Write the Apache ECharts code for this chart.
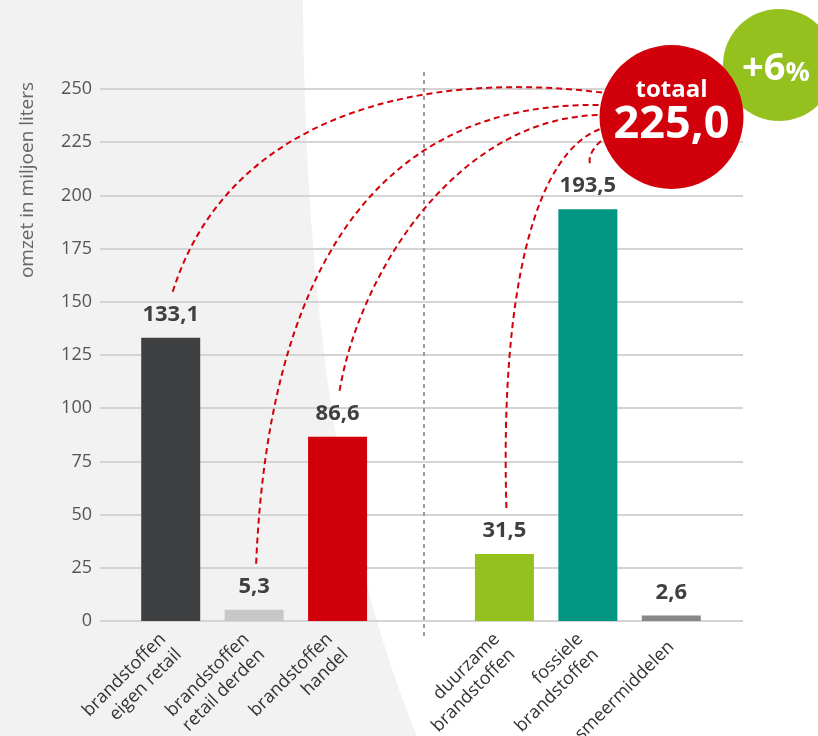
<!DOCTYPE html>
<html>
<head>
<meta charset="utf-8">
<script src="https://cdn.jsdelivr.net/npm/echarts@6/dist/echarts.min.js"></script>
<style>html,body{margin:0;padding:0;background:#fff}#c{width:818px;height:736px}</style>
</head>
<body>
<div id="c"></div>
<script>
// ---- data ----
const categories = ['brandstoffen\neigen retail', 'brandstoffen\nretail derden', 'brandstoffen\nhandel', '', 'duurzame\nbrandstoffen', 'fossiele\nbrandstoffen', 'smeermiddelen'];
const values = [133.1, 5.3, 86.6, null, 31.5, 193.5, 2.6];
const barColors = ['#3f4042', '#c6c7c6', '#d2000a', 'transparent', '#95c11f', '#009682', '#878787'];
const leftGroup = [0, 1, 2];      // sums to total
const connectors = [0, 1, 2, 4, 5];
const yMin = 0, yMax = 250, yStep = 25;
const yTitle = 'omzet in miljoen liters';
const totalTitle = 'totaal';
const growth = '+6';

const FONT = '"Open Sans", "DejaVu Sans", sans-serif';
const fmt = v => v.toFixed(1).replace('.', ',');
const total = leftGroup.reduce((s, i) => s + values[i], 0);

const chart = echarts.init(document.getElementById('c'), null, {renderer: 'canvas'});
chart.setOption({
  backgroundColor: '#ffffff',
  animation: false,
  grid: [
    {left: 129, right: 105, top: 89, bottom: 115, containLabel: false, outerBoundsMode: 'none'},
    {left: 100, right: 75, top: 89, bottom: 115, containLabel: false, outerBoundsMode: 'none'}
  ],
  xAxis: [
    {type: 'category', gridIndex: 0, data: categories,
     axisLine: {show: false}, axisTick: {show: false},
     axisLabel: {interval: 0, rotate: 45, margin: 23, color: '#333', fontSize: 18, fontFamily: FONT, lineHeight: 22}},
    {type: 'value', gridIndex: 1, show: false, min: 0, max: 1}
  ],
  yAxis: [
    {type: 'value', gridIndex: 0, min: yMin, max: yMax, interval: yStep, show: false},
    {type: 'value', gridIndex: 1, min: yMin, max: yMax, interval: yStep,
     axisLine: {show: false}, axisTick: {show: false},
     axisLabel: {margin: 8, color: '#555', fontSize: 18, fontFamily: FONT},
     splitLine: {lineStyle: {color: '#d4d4d4', width: 2}}}
  ],
  series: [{
    type: 'bar', xAxisIndex: 0, yAxisIndex: 0, barWidth: 59, z: 3,
    data: values.map((v, i) => v == null ? '-' : {value: v, itemStyle: {color: barColors[i]}}),
    label: {show: true, position: 'top', distance: 12, color: '#404040', fontSize: 22, fontWeight: 'bold', fontFamily: FONT,
            formatter: p => fmt(p.value)}
  }]
});

// ---- decorations ----
const px = (i, v) => chart.convertToPixel({xAxisIndex: 0, yAxisIndex: 0}, [i, v]);
const sepX = px(3, 0)[0] + 3;
const bubble = {cx: 671.5, cy: 117, r: 72};
const green = {cx: 779, cy: 65, r: 56};
const curveShapes = {
  0: {end: [605, 93], cp1: [230, 110], cp2: [430, 70]},
  1: {end: [603, 105], cp1: [268, 280], cp2: [370, 100]},
  2: {end: [603, 115], cp1: [360, 270], cp2: [460, 115]},
  4: {end: [603, 128], cp1: [500, 290], cp2: [535, 150]},
  5: {end: [602, 140], cp1: [588, 155], cp2: [595, 146]}
};
// background panel with curved right edge
function bez(p0, p1, p2, p3, n) {
  const pts = [];
  for (let k = 0; k <= n; k++) {
    const t = k / n, u = 1 - t;
    pts.push([u*u*u*p0[0] + 3*u*u*t*p1[0] + 3*u*t*t*p2[0] + t*t*t*p3[0],
              u*u*u*p0[1] + 3*u*u*t*p1[1] + 3*u*t*t*p2[1] + t*t*t*p3[1]]);
  }
  return pts;
}
const panelPts = [[0, 0]].concat(bez([303, 0], [305, 300], [340, 550], [417, 736], 60), [[0, 736]]);
const graphics = [
  {type: 'polygon', z: -10, silent: true, shape: {points: panelPts}, style: {fill: '#f2f2f2'}},
  {type: 'line', z: 1, silent: true,
   shape: {x1: sepX, y1: 72, x2: sepX, y2: 638},
   style: {stroke: '#999', lineWidth: 2, lineDash: [4, 4]}}
];
connectors.forEach(i => {
  const p = px(i, values[i]);
  const c = curveShapes[i];
  graphics.push({type: 'bezierCurve', z: 5, silent: true,
    shape: {x1: p[0] + 2, y1: p[1] - 46, cpx1: c.cp1[0], cpy1: c.cp1[1], cpx2: c.cp2[0], cpy2: c.cp2[1], x2: c.end[0], y2: c.end[1]},
    style: {stroke: '#d2000a', lineWidth: 2, lineDash: [6, 4], fill: null}});
});
graphics.push(
  {type: 'circle', z: 6, silent: true, shape: {cx: green.cx, cy: green.cy, r: green.r}, style: {fill: '#95c11f'}},
  {type: 'text', z: 7, silent: true, x: green.cx - 3, y: green.cy + 4,
   style: {text: '{a|' + growth + '}{b|%}', align: 'center', verticalAlign: 'middle', fill: '#fff',
     rich: {a: {fontSize: 38, fontWeight: 'bold', fill: '#fff', fontFamily: FONT}, b: {fontSize: 27, fontWeight: 'bold', fill: '#fff', fontFamily: FONT, padding: [8, 0, 0, 0]}}}},
  {type: 'circle', z: 8, silent: true, shape: {cx: bubble.cx, cy: bubble.cy, r: bubble.r}, style: {fill: '#d2000a'}},
  {type: 'text', z: 9, silent: true, x: bubble.cx, y: bubble.cy - 27,
   style: {text: totalTitle, align: 'center', verticalAlign: 'middle', fill: '#fff', font: 'bold 24px ' + FONT}},
  {type: 'text', z: 9, silent: true, x: bubble.cx, y: bubble.cy + 8,
   style: {text: fmt(total), align: 'center', verticalAlign: 'middle', fill: '#fff', font: 'bold 45px ' + FONT}},
  {type: 'text', z: 9, silent: true, x: 28, y: 180, rotation: Math.PI / 2,
   style: {text: yTitle, align: 'center', verticalAlign: 'middle', fill: '#666', font: '19px ' + FONT}}
);
chart.setOption({graphic: graphics});
</script>
</body>
</html>
